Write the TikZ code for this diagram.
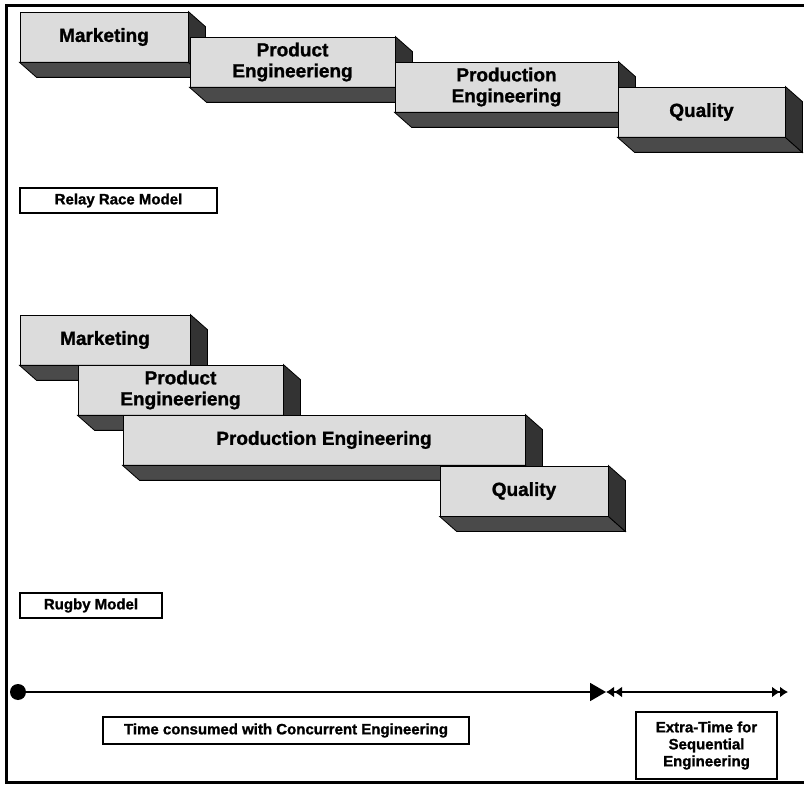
\documentclass[tikz,border=0pt]{standalone}
\usepackage{fontspec}
\setmainfont{Liberation Sans}
\newfontfamily\heavyfont{Liberation Sans}[BoldFeatures={FakeBold=1.2}]
\usetikzlibrary{calc,arrows.meta}

\definecolor{facelight}{HTML}{DCDCDC}
\definecolor{facebottom}{HTML}{4A4A4A}
\definecolor{faceside}{HTML}{333333}

\tikzset{
  slab/.style={draw=black, line width=0.8pt, fill=facelight, inner sep=0pt,
    align=center, font=\heavyfont\fontsize{19}{21}\selectfont\bfseries},
  tag/.style={draw=black, line width=1.4pt, fill=white, inner sep=0pt,
    align=center, font=\heavyfont\fontsize{15}{17}\selectfont\bfseries},
  frameline/.style={line width=3pt, black},
  timeline/.style={line width=1.8pt, black},
}

% the two shaded faces that give a front face its depth
\newcommand\slabdepth[1]{%
  \filldraw[fill=facebottom, line width=0.8pt]
    (#1.south west) -- ++(17,15) -- ($(#1.south east)+(17,15)$) -- (#1.south east) -- cycle;
  \filldraw[fill=faceside, line width=0.8pt]
    (#1.north east) -- ++(17,15) -- ($(#1.south east)+(17,15)$) -- (#1.south east) -- cycle;
}

\begin{document}
\begin{tikzpicture}[x=1pt, y=-1pt]
  \useasboundingbox (0,0) rectangle (804,786);
  \fill[white] (0,0) rectangle (804,786);

  % outer frame (open to the right)
  \draw[frameline] (804,6) -- (6,6) -- (6,782) -- (804,782);

  % relay race: one phase after the other
  \node[slab, minimum width=168pt, minimum height=50pt] (rm) at (104,37) {Marketing};
  \slabdepth{rm}
  \node[slab, minimum width=205pt, minimum height=50pt] (rp) at (292.5,62) {Product\\Engineerieng};
  \slabdepth{rp}
  \node[slab, minimum width=223pt, minimum height=50pt] (rpe) at (506.5,87) {Production\\Engineering};
  \slabdepth{rpe}
  \node[slab, minimum width=167pt, minimum height=50pt] (rq) at (701.5,112) {Quality};
  \slabdepth{rq}

  \node[tag, minimum width=197pt, minimum height=25pt] (relay) at (118.5,200.5) {Relay Race Model};

  % rugby: overlapping phases
  \node[slab, minimum width=170pt, minimum height=50pt] (gm) at (105,340) {Marketing};
  \slabdepth{gm}
  \node[slab, minimum width=205pt, minimum height=50pt] (gp) at (180.5,390) {Product\\Engineerieng};
  \slabdepth{gp}
  \node[slab, minimum width=402pt, minimum height=50pt] (gpe) at (324,440) {Production Engineering};
  \slabdepth{gpe}
  \node[slab, minimum width=168pt, minimum height=50pt] (gq) at (524,491) {Quality};
  \slabdepth{gq}

  \node[tag, minimum width=142pt, minimum height=25pt] (rugby) at (91,605.5) {Rugby Model};

  % time axis
  \node[circle, fill=black, inner sep=0pt, minimum size=16pt] (t0) at (18,692) {};
  \coordinate (t1) at (606,692);
  \coordinate (t2) at (788,692);
  \draw[timeline, -{Triangle[length=16pt, width=18pt]}] (t0) -- (t1);
  \draw[timeline, {Latex[length=8pt, width=11pt]Latex[length=8pt, width=11pt]}-{Latex[length=8pt, width=11pt]Latex[length=8pt, width=11pt]}] (t1) -- (t2);

  \node[tag, minimum width=366pt, minimum height=27pt] (conc) at (286,730.5) {Time consumed with Concurrent Engineering};
  \node[tag, minimum width=141pt, minimum height=67pt] (extra) at (706.5,745.5) {Extra-Time for\\Sequential\\Engineering};
\end{tikzpicture}
\end{document}
